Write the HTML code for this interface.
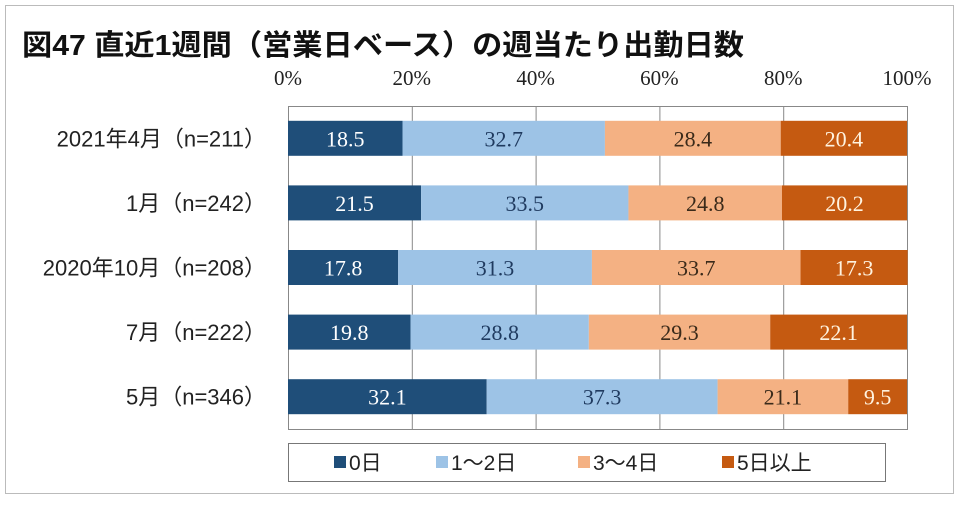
<!DOCTYPE html>
<html><head><meta charset="utf-8"><style>
body{margin:0;background:#fff;width:960px;height:503px;overflow:hidden;font-family:"Liberation Sans","Noto Sans CJK JP",sans-serif}
</style></head><body>
<svg width="960" height="503">
<rect x="5.5" y="5.5" width="948" height="488" fill="#fff" stroke="#bbb"/>
<text x="22" y="55" font-size="29" font-weight="bold" fill="#111" textLength="722" lengthAdjust="spacingAndGlyphs" font-family="Liberation Sans,Noto Sans CJK JP,sans-serif">図47 直近1週間（営業日ベース）の週当たり出勤日数</text>
<g id="plot"></g>
<rect x="288.5" y="443.5" width="597" height="38" fill="#fff" stroke="#777"/>
<g id="legend"></g>
</svg>
<script>
const categories=["2021年4月（n=211）","1月（n=242）","2020年10月（n=208）","7月（n=222）","5月（n=346）"];
const s0=[18.5,21.5,17.8,19.8,32.1];
const s1=[32.7,33.5,31.3,28.8,37.3];
const s2=[28.4,24.8,33.7,29.3,21.1];
const s3=[20.4,20.2,17.3,22.1,9.5];
const seriesNames=["0日","1～2日","3～4日","5日以上"];
const ticks=[0,20,40,60,80,100];
const series=[s0,s1,s2,s3];
const colors=["#1f4e79","#9dc3e6","#f4b183","#c55a11"];
const textCol=["#fff","#1f3a5f","#3a2a1a","#fff3e0"];
const NS="http://www.w3.org/2000/svg";
const x0=288,x1=907,yTop=106,yBot=429;
const xs=v=>x0+(x1-x0)*v/100;
const band=(yBot-yTop)/categories.length;
const yc=i=>yTop+band*(i+0.5);
const plot=document.getElementById('plot');
function mk(t,a,p){const e=document.createElementNS(NS,t);for(const k in a)e.setAttribute(k,a[k]);(p||plot).appendChild(e);return e;}
let box=mk('rect',{x:x0+.5,y:yTop+.5,width:x1-x0,height:yBot-yTop,fill:'none',stroke:'#888'});


ticks.forEach(t=>{
  if(t>0&&t<100){let g=mk('line',{x1:xs(t)+.5,x2:xs(t)+.5,y1:yTop,y2:yBot,stroke:'#888'});
  
  }
  let l=mk('text',{x:xs(t),y:85,'text-anchor':'middle','font-size':21,'font-family':'Liberation Serif,serif',fill:'#222'});
  l.textContent=t+'%';
  
  
});
categories.forEach((c,i)=>{
  let l=mk('text',{x:266,y:yc(i)+8,'text-anchor':'end','font-size':22,fill:'#222'});
  l.textContent=c;
  
  
  let acc=0;
  series.forEach((s,k)=>{
    const v=s[i];
    let r=mk('rect',{x:xs(acc),y:yc(i)-17.5,width:xs(acc+v)-xs(acc),height:35,fill:colors[k]});
    
    
    let t=mk('text',{x:(xs(acc)+xs(acc+v))/2,y:yc(i)+8,'text-anchor':'middle','font-size':22,'font-family':'Liberation Serif,serif',fill:textCol[k]});
    t.textContent=v.toFixed(1);
    
    
    acc+=v;
  });
});
const lg=document.getElementById('legend');
const lx=[334,436,578,722];
seriesNames.forEach((n,k)=>{
  let r=mk('rect',{x:lx[k],y:456,width:12,height:12,fill:colors[k]},lg);
  
  
  let t=mk('text',{x:lx[k]+15,y:470,'font-size':21,fill:'#222'},lg);
  t.textContent=n;
  
  
});
</script>
</body></html>
